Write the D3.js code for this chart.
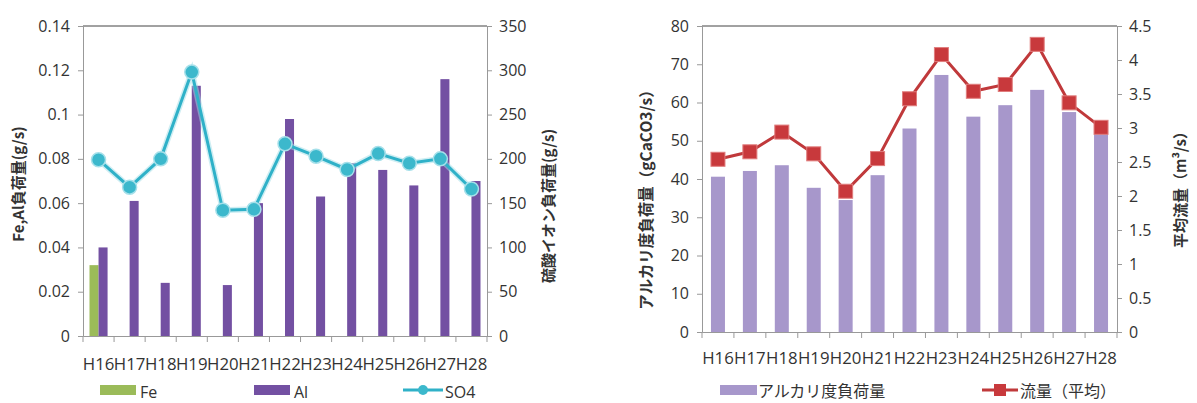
<!DOCTYPE html>
<html>
<head>
<meta charset="utf-8">
<script src="https://cdn.jsdelivr.net/npm/d3@7"></script>
<style>
  body { margin: 0; background: #fff; }
  svg { display: block; }
  text { font-family: "Open Sans", "Noto Sans CJK JP", sans-serif; fill: #333; }
</style>
</head>
<body>
<svg id="chart" width="1197" height="403"></svg>
<script>
// ---- data ----
const years = ["H16","H17","H18","H19","H20","H21","H22","H23","H24","H25","H26","H27","H28"];
const feLoad = [0.032, null, null, null, null, null, null, null, null, null, null, null, null];
const alLoad = [0.040, 0.061, 0.024, 0.113, 0.023, 0.060, 0.098, 0.063, 0.078, 0.075, 0.068, 0.116, 0.070];
const so4Load = [199, 168, 200, 298, 142, 143, 217, 203, 188, 206, 195, 200, 166];
const alkLoad = [40.6, 42.1, 43.6, 37.7, 34.5, 41.0, 53.2, 67.2, 56.3, 59.3, 63.3, 57.5, 52.0];
const flowAvg = [2.54, 2.65, 2.94, 2.62, 2.07, 2.55, 3.43, 4.08, 3.54, 3.64, 4.23, 3.37, 3.01];
const leftTicksL = [0, 0.02, 0.04, 0.06, 0.08, 0.1, 0.12, 0.14];
const leftTicksR = [0, 50, 100, 150, 200, 250, 300, 350];
const rightTicksL = [0, 10, 20, 30, 40, 50, 60, 70, 80];
const rightTicksR = [0, 0.5, 1, 1.5, 2, 2.5, 3, 3.5, 4, 4.5];

const svg = d3.select("#chart");
const FONT_JP = "'Noto Sans CJK JP', sans-serif";
const fmtPlain = d => String(+d.toFixed(2));

function styleAxis(g) {
  g.selectAll("path.domain").attr("stroke", "#999");
  g.selectAll(".tick line").attr("stroke", "#999");
  g.selectAll(".tick text").attr("fill", "#333").style("font-size", "16px")
    .style("font-family", "'Open Sans', sans-serif");
}

// ================= LEFT CHART =================
{
  const L = 83, R = 487, T = 26, B = 336;
  const x = d3.scaleBand().domain(years).range([L, R]).padding(0);
  const xs = d3.scaleBand().domain(["Fe", "Al"]).range([0, x.bandwidth()]).paddingInner(0).paddingOuter(0.72);
  const yL = d3.scaleLinear().domain([0, 0.14]).range([B, T]);
  const yR = d3.scaleLinear().domain([0, 350]).range([B, T]);

  svg.append("line").attr("x1", L).attr("x2", R).attr("y1", T).attr("y2", T).attr("stroke", "#444").attr("stroke-width", 1);

  const g = svg.append("g");
  years.forEach((yr, i) => {
    if (feLoad[i] != null) {
      g.append("rect").attr("x", x(yr) + xs("Fe")).attr("width", xs.bandwidth())
        .attr("y", yL(feLoad[i])).attr("height", B - yL(feLoad[i])).attr("fill", "#9bbb59");
    }
    if (alLoad[i] != null) {
      g.append("rect").attr("x", x(yr) + xs("Al")).attr("width", xs.bandwidth())
        .attr("y", yL(alLoad[i])).attr("height", B - yL(alLoad[i])).attr("fill", "#7350a2");
    }
  });

  const ax = svg.append("g").attr("transform", `translate(${L},0)`)
    .call(d3.axisLeft(yL).tickValues(leftTicksL).tickSize(5).tickPadding(8).tickFormat(fmtPlain));
  styleAxis(ax);
  const axr = svg.append("g").attr("transform", `translate(${R},0)`)
    .call(d3.axisRight(yR).tickValues(leftTicksR).tickSize(5).tickPadding(7));
  styleAxis(axr);
  const axb = svg.append("g").attr("transform", `translate(0,${B})`)
    .call(d3.axisBottom(x).tickSize(0).tickPadding(22));
  styleAxis(axb);
  axb.selectAll(".tick text").style("font-size", "16.8px").attr("fill", "#404040");
  svg.append("g").selectAll("line").data(d3.range(years.length + 1)).join("line")
    .attr("x1", i => L + i * x.step()).attr("x2", i => L + i * x.step())
    .attr("y1", B).attr("y2", B + 6).attr("stroke", "#999");

  const line = d3.line().x((d, i) => x(years[i]) + x.bandwidth() / 2).y(d => yR(d));
  svg.append("path").datum(so4Load).attr("d", line).attr("fill", "none")
    .attr("stroke", "#9fdde8").attr("stroke-width", 6).attr("opacity", 0.5);
  svg.append("path").datum(so4Load).attr("d", line).attr("fill", "none")
    .attr("stroke", "#2fb1c8").attr("stroke-width", 3);
  svg.append("g").selectAll("circle").data(so4Load).join("circle")
    .attr("cx", (d, i) => x(years[i]) + x.bandwidth() / 2).attr("cy", d => yR(d))
    .attr("r", 7).attr("fill", "#3cb8cc").attr("stroke", "#a6e0ea").attr("stroke-width", 1.5);

  svg.append("text").attr("transform", `translate(24,${(T + B) / 2 + 3}) rotate(-90)`)
    .attr("text-anchor", "middle").style("font-family", FONT_JP).style("font-weight", "bold").style("font-size", "15px")
    .text("Fe,Al負荷量(g/s)");
  svg.append("text").attr("transform", `translate(554,${(T + B) / 2 + 25}) rotate(-90)`)
    .attr("text-anchor", "middle").style("font-family", FONT_JP).style("font-weight", "bold").style("font-size", "15px")
    .text("硫酸イオン負荷量(g/s)");

  const lg = svg.append("g");
  lg.append("rect").attr("x", 100).attr("y", 385).attr("width", 36).attr("height", 10).attr("fill", "#9bbb59");
  lg.append("text").attr("x", 140).attr("y", 398).style("font-size", "16px").text("Fe");
  lg.append("rect").attr("x", 254).attr("y", 385).attr("width", 36).attr("height", 10).attr("fill", "#7350a2");
  lg.append("text").attr("x", 294).attr("y", 398).style("font-size", "16px").text("Al");
  lg.append("line").attr("x1", 403).attr("x2", 443).attr("y1", 390).attr("y2", 390).attr("stroke", "#2fb1c8").attr("stroke-width", 3);
  lg.append("circle").attr("cx", 423).attr("cy", 390).attr("r", 5).attr("fill", "#3cb8cc");
  lg.append("text").attr("x", 445).attr("y", 398).style("font-size", "16px").text("SO4");
}

// ================= RIGHT CHART =================
{
  const L = 702, R = 1117, T = 26, B = 332;
  const xc = d3.scaleBand().domain(years).range([L, R]).padding(0);
  const yL = d3.scaleLinear().domain([0, 80]).range([B, T]);
  const yR = d3.scaleLinear().domain([0, 4.5]).range([B, T]);

  svg.append("line").attr("x1", L).attr("x2", R).attr("y1", T).attr("y2", T).attr("stroke", "#444").attr("stroke-width", 1);

  svg.append("g").selectAll("rect").data(alkLoad).join("rect")
    .attr("x", (d, i) => xc(years[i]) + xc.bandwidth() / 2 - 7).attr("width", 14)
    .attr("y", d => yL(d)).attr("height", d => B - yL(d)).attr("fill", "#a797cb");

  const ax = svg.append("g").attr("transform", `translate(${L},0)`)
    .call(d3.axisLeft(yL).tickValues(rightTicksL).tickSize(5).tickPadding(8));
  styleAxis(ax);
  const axr = svg.append("g").attr("transform", `translate(${R},0)`)
    .call(d3.axisRight(yR).tickValues(rightTicksR).tickSize(5).tickPadding(7).tickFormat(fmtPlain));
  styleAxis(axr);
  const axb = svg.append("g").attr("transform", `translate(0,${B})`)
    .call(d3.axisBottom(xc).tickSize(0).tickPadding(20));
  styleAxis(axb);
  axb.selectAll(".tick text").style("font-size", "16.8px").attr("fill", "#404040");
  svg.append("g").selectAll("line").data(d3.range(years.length + 1)).join("line")
    .attr("x1", i => L + i * xc.step()).attr("x2", i => L + i * xc.step())
    .attr("y1", B).attr("y2", B + 6).attr("stroke", "#999");

  const line = d3.line().x((d, i) => xc(years[i]) + xc.bandwidth() / 2).y(d => yR(d));
  svg.append("path").datum(flowAvg).attr("d", line).attr("fill", "none")
    .attr("stroke", "#c0393b").attr("stroke-width", 3);
  svg.append("g").selectAll("rect").data(flowAvg).join("rect")
    .attr("x", (d, i) => xc(years[i]) + xc.bandwidth() / 2 - 7).attr("y", d => yR(d) - 7)
    .attr("width", 14).attr("height", 14).attr("fill", "#c8393c").attr("stroke", "#e07d7d").attr("stroke-width", 1);

  svg.append("text").attr("transform", `translate(652,${(T + B) / 2 + 17}) rotate(-90)`)
    .attr("text-anchor", "middle").style("font-family", FONT_JP).style("font-weight", "bold").style("font-size", "15.5px")
    .text("アルカリ度負荷量（gCaCO3/s）");
  svg.append("text").attr("transform", `translate(1186,${(T + B) / 2 + 7}) rotate(-90)`)
    .attr("text-anchor", "middle").style("font-family", FONT_JP).style("font-weight", "bold").style("font-size", "15px")
    .text("平均流量（m³/s）");

  const lg = svg.append("g");
  lg.append("rect").attr("x", 720).attr("y", 385).attr("width", 37).attr("height", 10).attr("fill", "#a797cb");
  lg.append("text").attr("x", 758).attr("y", 397).style("font-family", FONT_JP).style("font-size", "16px").text("アルカリ度負荷量");
  lg.append("line").attr("x1", 982).attr("x2", 1018).attr("y1", 390).attr("y2", 390).attr("stroke", "#c0393b").attr("stroke-width", 3);
  lg.append("rect").attr("x", 994).attr("y", 384).attr("width", 12).attr("height", 12).attr("fill", "#c8393c");
  lg.append("text").attr("x", 1020).attr("y", 397).style("font-family", FONT_JP).style("font-size", "16px").text("流量（平均）");
}
</script>
</body>
</html>
